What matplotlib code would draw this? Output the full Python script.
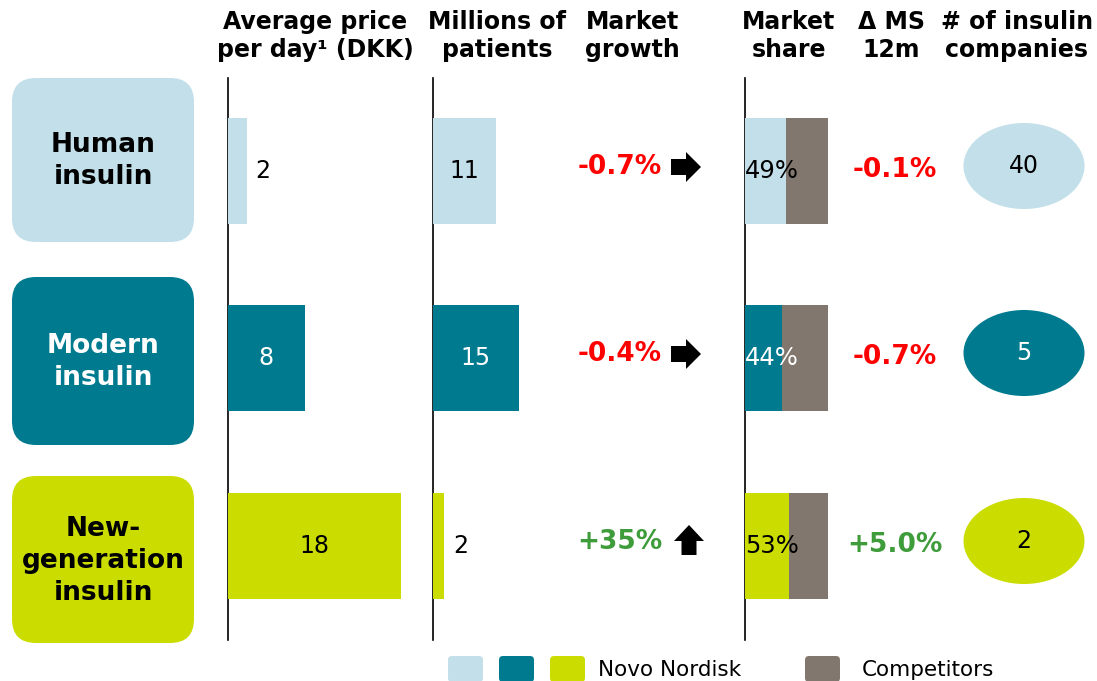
import numpy as np
import matplotlib.pyplot as plt
from matplotlib.patches import FancyBboxPatch, Ellipse, Polygon

# data
categories = ['Human\ninsulin', 'Modern\ninsulin', 'New-\ngeneration\ninsulin']
price = [2, 8, 18]
patients = [11, 15, 2]
growth = ['-0.7%', '-0.4%', '+35%']
growth_dir = ['right', 'right', 'up']
share = [49, 44, 53]
delta_ms = ['-0.1%', '-0.7%', '+5.0%']
companies = [40, 5, 2]
headers = ['Average price\nper day\u00b9 (DKK)', 'Millions of\npatients', 'Market\ngrowth',
           'Market\nshare', '\u0394 MS\n12m', '# of insulin\ncompanies']

colors = ['#C2DFEA', '#007A8F', '#CBDD00']
text_colors = ['black', 'white', 'black']
comp_color = '#82776E'
red = '#FF0000'
green = '#3E9C3A'

W, H = 1097, 681
fig = plt.figure(figsize=(W / 100, H / 100), dpi=100)
plt.rcParams['font.family'] = 'DejaVu Sans'

ax = fig.add_axes([0, 0, 1, 1])
ax.set_xlim(0, W)
ax.set_ylim(H, 0)
ax.axis('off')

row_y = [171, 358, 546]
box_top = [78, 277, 476]
box_h = [164, 168, 167]
bar_h = 106


def col_axes(x0, w, xmax):
    a = fig.add_axes([x0 / W, 0, w / W, 1])
    a.set_xlim(0, xmax)
    a.set_ylim(H, 0)
    a.axis('off')
    a.patch.set_alpha(0)
    return a


# headers
hx = [315, 497, 632, 789, 891, 1017]
for x, t in zip(hx, headers):
    ax.text(x, 36, t, ha='center', va='center', fontsize=17, fontweight='bold',
            linespacing=1.2)

# vertical lines
for x in [228, 433, 745]:
    ax.plot([x, x], [78, 640], color='black', lw=1.2)

# category boxes
for i, c in enumerate(categories):
    box = FancyBboxPatch((12, box_top[i]), 182, box_h[i],
                         boxstyle='round,pad=0,rounding_size=24',
                         fc=colors[i], ec='none')
    ax.add_patch(box)
    ax.text(103, box_top[i] + box_h[i] / 2 + 1, c, ha='center', va='center',
            fontsize=19, fontweight='bold', color=text_colors[i], linespacing=1.3)

# price bars
ax_p = col_axes(228, 192, 20)
ax_p.barh(row_y, price, height=bar_h, color=colors)
for i, v in enumerate(price):
    if v < 4:
        ax_p.text(v + 0.8, row_y[i], str(v), ha='left', va='center', fontsize=17)
    else:
        ax_p.text(v / 2, row_y[i], str(v), ha='center', va='center', fontsize=17,
                  color='black' if i != 1 else 'white')

# patients bars
ax_n = col_axes(433, 114, 20)
ax_n.barh(row_y, patients, height=bar_h, color=colors)
for i, v in enumerate(patients):
    if v < 4:
        ax_n.text(v + 1.5, row_y[i], str(v), ha='left', va='center', fontsize=17)
    else:
        ax_n.text(v / 2, row_y[i], str(v), ha='center', va='center', fontsize=17,
                  color='black' if i != 1 else 'white')

# market growth
for i, g in enumerate(growth):
    y = row_y[i] - 4
    ax.text(620, y, g, ha='center', va='center', fontsize=19, fontweight='bold',
            color=red if g.startswith('-') else green)
    if growth_dir[i] == 'right':
        pts = [(671, y - 8), (686, y - 8), (686, y - 15), (701, y), (686, y + 15),
               (686, y + 8), (671, y + 8)]
    else:
        cx, y = 689, y - 1
        pts = [(cx - 7.5, y + 14), (cx - 7.5, y), (cx - 15, y), (cx, y - 16),
               (cx + 15, y), (cx + 7.5, y), (cx + 7.5, y + 14)]
    ax.add_patch(Polygon(pts, closed=True, fc='black', ec='none'))

# market share bars
ax_s = col_axes(745, 83, 100)
others = [100 - s for s in share]
ax_s.barh(row_y, share, height=bar_h, color=colors)
ax_s.barh(row_y, others, left=share, height=bar_h, color=comp_color)
for i, s in enumerate(share):
    ax_s.text(0, row_y[i], f'{s}%', ha='left', va='center', fontsize=17.5,
              color='black' if i != 1 else 'white')

# delta MS
for i, d in enumerate(delta_ms):
    ax.text(895, row_y[i] - 1, d, ha='center', va='center', fontsize=19, fontweight='bold',
            color=red if d.startswith('-') else green)

# companies ellipses
for i, n in enumerate(companies):
    y = row_y[i] - 5
    ax.add_patch(Ellipse((1024, y), 121, 86, fc=colors[i], ec='none'))
    ax.text(1024, y, str(n), ha='center', va='center', fontsize=17,
            color='black' if i != 1 else 'white')

# legend
for x, c in zip([448, 499, 550], colors):
    ax.add_patch(FancyBboxPatch((x, 656), 35, 26, boxstyle='round,pad=0,rounding_size=4',
                                fc=c, ec='none', clip_on=False))
ax.text(598, 670, 'Novo Nordisk', ha='left', va='center', fontsize=15.5)
ax.add_patch(FancyBboxPatch((805, 656), 35, 26, boxstyle='round,pad=0,rounding_size=4',
                            fc=comp_color, ec='none', clip_on=False))
ax.text(862, 670, 'Competitors', ha='left', va='center', fontsize=15.5)

fig.savefig('out.png', dpi=100)
